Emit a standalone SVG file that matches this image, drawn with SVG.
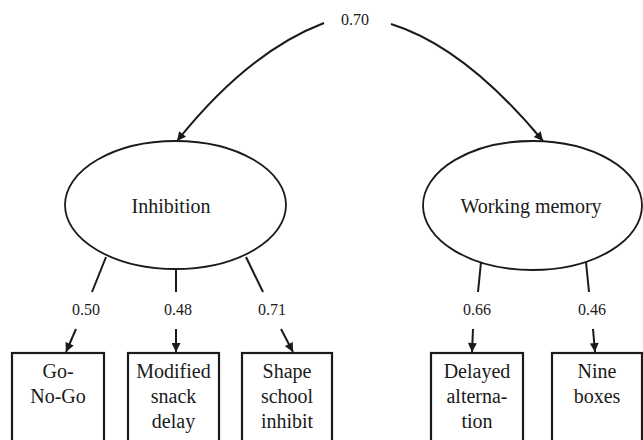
<svg xmlns="http://www.w3.org/2000/svg" width="643" height="440" viewBox="0 0 643 440">
<style>
.s{fill:none;stroke:#1a1a1a;stroke-width:2}
.e{fill:#fff;stroke:#1a1a1a;stroke-width:1.8}
.b{fill:#fff;stroke:#1a1a1a;stroke-width:2.2}
</style>
<defs>
<marker id="ah" viewBox="0 0 10 10" refX="10" refY="5" markerWidth="11" markerHeight="9" markerUnits="userSpaceOnUse" orient="auto">
<path d="M0,0 L10,5 L0,10 z" fill="#1a1a1a"/>
</marker>
</defs>
<rect width="643" height="440" fill="#fff"/>
<g id="connectors">
<path class="s" d="M324,23 Q248,52 177,141" marker-end="url(#ah)"/>
<path class="s" d="M391,24 Q465,47 543,141" marker-end="url(#ah)"/>
<line class="s" x1="106" y1="257" x2="92" y2="292"/>
<line class="s" x1="76" y1="329" x2="66" y2="352" marker-end="url(#ah)"/>
<line class="s" x1="176" y1="269" x2="176" y2="292"/>
<line class="s" x1="176" y1="329" x2="176" y2="352" marker-end="url(#ah)"/>
<line class="s" x1="246" y1="257" x2="263" y2="292"/>
<line class="s" x1="281" y1="329" x2="293" y2="352" marker-end="url(#ah)"/>
<line class="s" x1="481" y1="262" x2="478" y2="292"/>
<line class="s" x1="473" y1="329" x2="472" y2="352" marker-end="url(#ah)"/>
<line class="s" x1="586" y1="262" x2="589" y2="292"/>
<line class="s" x1="593" y1="329" x2="595" y2="352" marker-end="url(#ah)"/>
<text x="355" y="25" font-family="Liberation Serif" font-size="16" text-anchor="middle" fill="#1a1a1a">0.70</text>
<text x="86" y="315" font-family="Liberation Serif" font-size="16" text-anchor="middle" fill="#1a1a1a">0.50</text>
<text x="178" y="315" font-family="Liberation Serif" font-size="16" text-anchor="middle" fill="#1a1a1a">0.48</text>
<text x="272" y="315" font-family="Liberation Serif" font-size="16" text-anchor="middle" fill="#1a1a1a">0.71</text>
<text x="477" y="315" font-family="Liberation Serif" font-size="16" text-anchor="middle" fill="#1a1a1a">0.66</text>
<text x="592" y="315" font-family="Liberation Serif" font-size="16" text-anchor="middle" fill="#1a1a1a">0.46</text>
</g>
<g id="inhibition">
<ellipse class="e" cx="175.5" cy="205" rx="110.5" ry="64"/>
<text x="171" y="213" font-family="Liberation Serif" font-size="20" text-anchor="middle" fill="#1a1a1a">Inhibition</text>
</g>
<g id="working-memory">
<ellipse class="e" cx="532.5" cy="205.5" rx="109.5" ry="64.5"/>
<text x="531" y="213" font-family="Liberation Serif" font-size="20" text-anchor="middle" fill="#1a1a1a">Working memory</text>
</g>
<g id="go-no-go">
<rect class="b" x="12" y="353" width="92" height="95"/>
<text x="58" y="378" font-family="Liberation Serif" font-size="20" text-anchor="middle" fill="#1a1a1a">Go-</text>
<text x="58" y="403" font-family="Liberation Serif" font-size="20" text-anchor="middle" fill="#1a1a1a">No-Go</text>
</g>
<g id="modified-snack-delay">
<rect class="b" x="128" y="353" width="91" height="95"/>
<text x="173.5" y="378" font-family="Liberation Serif" font-size="20" text-anchor="middle" fill="#1a1a1a">Modified</text>
<text x="173.5" y="403" font-family="Liberation Serif" font-size="20" text-anchor="middle" fill="#1a1a1a">snack</text>
<text x="173.5" y="428" font-family="Liberation Serif" font-size="20" text-anchor="middle" fill="#1a1a1a">delay</text>
</g>
<g id="shape-school-inhibit">
<rect class="b" x="242" y="353" width="90" height="95"/>
<text x="287" y="378" font-family="Liberation Serif" font-size="20" text-anchor="middle" fill="#1a1a1a">Shape</text>
<text x="287" y="403" font-family="Liberation Serif" font-size="20" text-anchor="middle" fill="#1a1a1a">school</text>
<text x="287" y="428" font-family="Liberation Serif" font-size="20" text-anchor="middle" fill="#1a1a1a">inhibit</text>
</g>
<g id="delayed-alternation">
<rect class="b" x="431" y="353" width="92" height="95"/>
<text x="477" y="378" font-family="Liberation Serif" font-size="20" text-anchor="middle" fill="#1a1a1a">Delayed</text>
<text x="477" y="403" font-family="Liberation Serif" font-size="20" text-anchor="middle" fill="#1a1a1a">alterna-</text>
<text x="477" y="428" font-family="Liberation Serif" font-size="20" text-anchor="middle" fill="#1a1a1a">tion</text>
</g>
<g id="nine-boxes">
<rect class="b" x="552" y="353" width="90" height="95"/>
<text x="597" y="378" font-family="Liberation Serif" font-size="20" text-anchor="middle" fill="#1a1a1a">Nine</text>
<text x="597" y="403" font-family="Liberation Serif" font-size="20" text-anchor="middle" fill="#1a1a1a">boxes</text>
</g>
</svg>
